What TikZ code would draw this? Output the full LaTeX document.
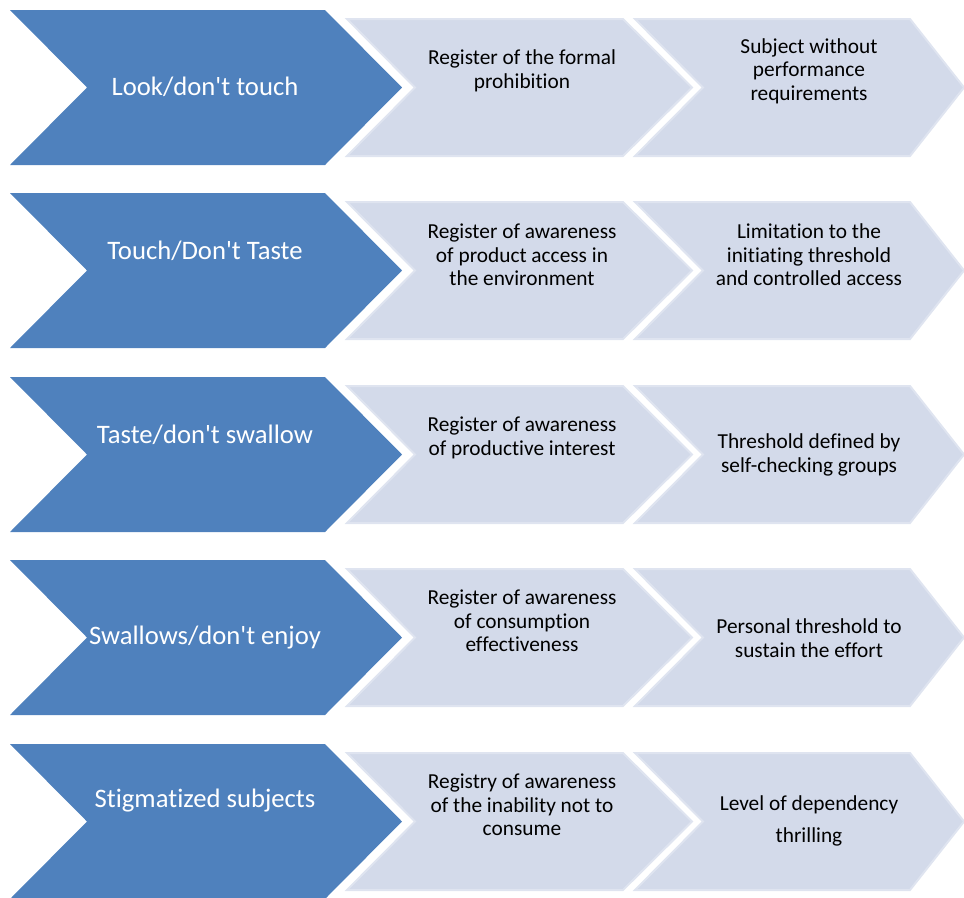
\documentclass[tikz,border=0pt]{standalone}
\usepackage{fontspec}
\setmainfont{Carlito}[Ligatures={NoCommon}]
\usetikzlibrary{positioning}

\definecolor{stageblue}{RGB}{79,129,189}
\definecolor{steplight}{RGB}{211,218,234}
\definecolor{stepedge}{RGB}{223,228,240}

\begin{document}
\begin{tikzpicture}[x=0.75pt, y=-0.75pt]

   \tikzstyle{stage}=[fill=stageblue, draw=none]
   \tikzstyle{level}=[fill=steplight, draw=stepedge, line width=1.5pt, line join=miter]
   \tikzstyle{stagetext}=[text=white, align=center, inner sep=0pt, font=\fontsize{20}{22}\selectfont]
   \tikzstyle{leveltext}=[text=black, align=center, inner sep=0pt, font=\fontsize{16}{17.6}\selectfont]

   \clip (0,0) rectangle (964,897);
   \useasboundingbox (0,0) rectangle (964,897);

   % blue chevrons
   \fill[stage] (10,10)  -- (325,10)  -- (402,87.5)  -- (325,165) -- (10,165) -- (87,87.5)  -- cycle;
   \fill[stage] (10,193) -- (325,193) -- (402,270.5) -- (325,348) -- (10,348) -- (87,270.5) -- cycle;
   \fill[stage] (10,377) -- (325,377) -- (402,454.5) -- (325,532) -- (10,532) -- (87,454.5) -- cycle;
   \fill[stage] (10,560) -- (325,560) -- (402,637.5) -- (325,715) -- (10,715) -- (87,637.5) -- cycle;
   \fill[stage] (10,744) -- (325,744) -- (402,821.5) -- (325,899) -- (10,899) -- (87,821.5) -- cycle;

   % light chevrons, middle column
   \filldraw[level] (347,19)  -- (623,19)  -- (692,87.5)  -- (623,156) -- (347,156) -- (415,87.5)  -- cycle;
   \filldraw[level] (347,202) -- (623,202) -- (692,270.5) -- (623,339) -- (347,339) -- (415,270.5) -- cycle;
   \filldraw[level] (347,386) -- (623,386) -- (692,454.5) -- (623,523) -- (347,523) -- (415,454.5) -- cycle;
   \filldraw[level] (347,569) -- (623,569) -- (692,637.5) -- (623,706) -- (347,706) -- (415,637.5) -- cycle;
   \filldraw[level] (347,753) -- (623,753) -- (692,821.5) -- (623,890) -- (347,890) -- (415,821.5) -- cycle;

   % light chevrons, right column
   \filldraw[level] (635,19)  -- (910,19)  -- (964,87.5)  -- (910,156) -- (635,156) -- (703,87.5)  -- cycle;
   \filldraw[level] (635,202) -- (910,202) -- (964,270.5) -- (910,339) -- (635,339) -- (703,270.5) -- cycle;
   \filldraw[level] (635,386) -- (910,386) -- (964,454.5) -- (910,523) -- (635,523) -- (703,454.5) -- cycle;
   \filldraw[level] (635,569) -- (910,569) -- (964,637.5) -- (910,706) -- (635,706) -- (703,637.5) -- cycle;
   \filldraw[level] (635,753) -- (910,753) -- (964,821.5) -- (910,890) -- (635,890) -- (703,821.5) -- cycle;

   \node[stagetext] (s1) at (205,87)  {Look/don\textquotesingle t touch};
   \node[stagetext] (s2) at (205,251) {Touch/Don\textquotesingle t Taste};
   \node[stagetext] (s3) at (205,435) {Taste/don\textquotesingle t swallow};
   \node[stagetext] (s4) at (205,638) {Swallows/don\textquotesingle t enjoy};
   \node[stagetext] (s5) at (205,801) {Stigmatized subjects};

   \node[leveltext] (r1) at (522,71)  {Register of the formal\\prohibition};
   \node[leveltext] (r2) at (522,255) {Register of awareness\\of product access in\\the environment};
   \node[leveltext] (r3) at (522,438) {Register of awareness\\of productive interest};
   \node[leveltext] (r4) at (522,621) {Register of awareness\\of consumption\\effectiveness};
   \node[leveltext] (r5) at (522,805) {Registry of awareness\\of the inability not to\\consume};

   \node[leveltext] (t1) at (809,71)  {Subject without\\performance\\requirements};
   \node[leveltext] (t2) at (809,255) {Limitation to the\\initiating threshold\\and controlled access};
   \node[leveltext] (t3) at (809,455) {Threshold defined by\\self-checking groups};
   \node[leveltext] (t4) at (809,638) {Personal threshold to\\sustain the effort};
   \node[leveltext] (t5) at (809,821) {Level of dependency\\[6pt]thrilling};
\end{tikzpicture}
\end{document}
